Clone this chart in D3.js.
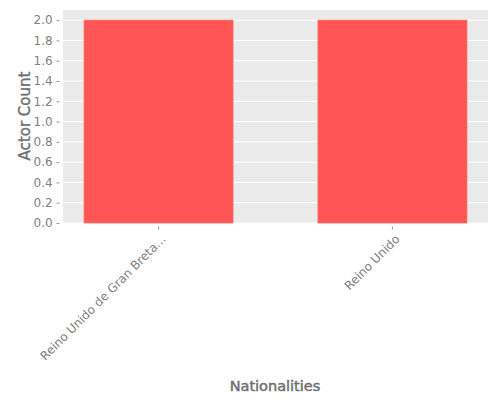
<!DOCTYPE html>
<html><head><meta charset="utf-8">
<script src="https://cdn.jsdelivr.net/npm/d3@7"></script>
<style>body{margin:0;background:#fff;}svg{display:block;}svg text{font-family:"DejaVu Sans",sans-serif;}</style>
</head><body>
<svg id="c" width="500" height="400"></svg>
<script>
const categories = ["Reino Unido de Gran Breta...", "Reino Unido"];
const values = [2, 2];
const yTicks = [0,0.2,0.4,0.6,0.8,1.0,1.2,1.4,1.6,1.8,2.0];

const svg = d3.select("#c");
const L = 63, R = 488, T = 10, B = 223;
const x = d3.scaleBand().domain(categories).range([L, R]).paddingInner(0.363).paddingOuter(0.09);
const y = d3.scaleLinear().domain([0, 2.1]).range([B, T]);

svg.append("rect").attr("x", L).attr("y", T).attr("width", R-L).attr("height", B-T).attr("fill", "#EAEAEA");
svg.append("g").selectAll("line").data(yTicks).join("line")
  .attr("x1", L).attr("x2", R).attr("y1", d => y(d)).attr("y2", d => y(d))
  .attr("stroke", "#fff").attr("stroke-width", 1);

svg.append("g").selectAll("rect").data(values).join("rect")
  .attr("x", (d,i) => x(categories[i])).attr("width", x.bandwidth())
  .attr("y", d => y(d)).attr("height", d => B - y(d))
  .attr("fill", "#FF5555").attr("stroke", "#FF6B6B").attr("stroke-width", 0.8);

const yAxis = svg.append("g").attr("transform", `translate(${L-3.5},0)`)
  .call(d3.axisLeft(y).tickValues(yTicks).tickFormat(d3.format(".1f")).tickSize(3).tickPadding(3.8));
yAxis.attr("font-family", null);
yAxis.select(".domain").remove();
yAxis.selectAll("line").attr("stroke", "#999");
yAxis.selectAll("text").attr("fill", "#808080").style("font-size", "12px");

const xAxis = svg.append("g").attr("transform", `translate(0,${B+3.5})`)
  .call(d3.axisBottom(x).tickSize(3).tickPadding(4));
xAxis.attr("font-family", null);
xAxis.select(".domain").remove();
xAxis.selectAll("line").attr("stroke", "#999");
xAxis.selectAll("text").attr("fill", "#808080").style("font-size", "12px")
  .attr("text-anchor", "end").attr("dy", "0.93em").attr("y", 0).attr("x", 0)
  .attr("transform", "translate(0,5.5) rotate(-45)");

svg.append("text").attr("transform", `translate(30,116) rotate(-90)`)
  .attr("text-anchor", "middle").attr("fill", "#707070").attr("stroke", "#707070").attr("stroke-width", 0.4)
  .style("font-size", "15px").text("Actor Count");
svg.append("text").attr("x", 275).attr("y", 391).attr("text-anchor", "middle")
  .attr("fill", "#707070").attr("stroke", "#707070").attr("stroke-width", 0.5)
  .style("font-size", "14.5px").text("Nationalities");
</script>
</body></html>
